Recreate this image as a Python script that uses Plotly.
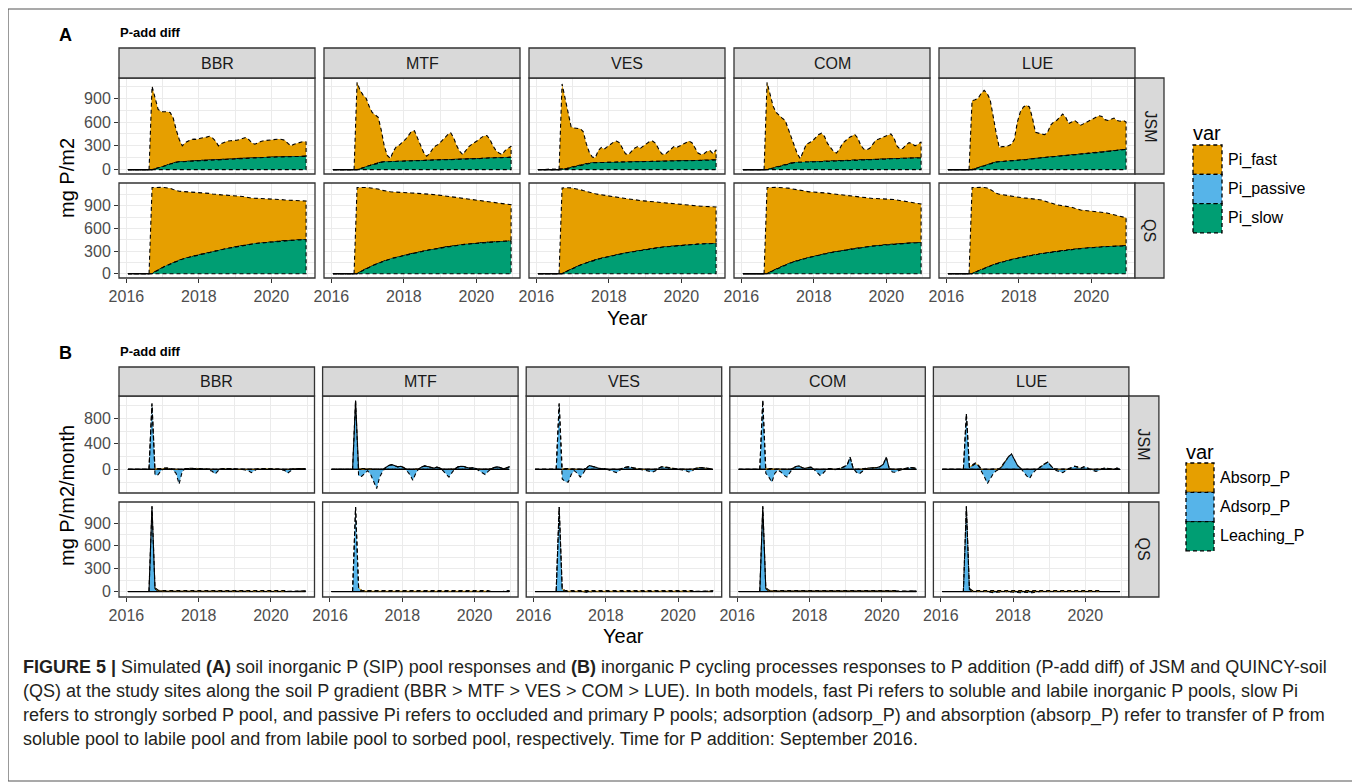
import plotly.graph_objects as go
import pandas as pd

# The page body adds an 8px margin, so the figure is drawn 8px smaller and every
# reference pixel position is shifted by that amount.
OFF = 8
W, H = 1360 - OFF, 782 - OFF
FONT = "Liberation Sans, Arial, Helvetica, sans-serif"

# ---------------- data ----------------
SITES = ["BBR", "MTF", "VES", "COM", "LUE"]
MODELS = ["JSM", "QS"]
POOL_VARS = ["Pi_fast", "Pi_passive", "Pi_slow"]
FLUX_VARS = ["Absorp_P", "Adsorp_P", "Leaching_P"]
VAR_COLORS = {"Pi_fast": "#E69F00", "Pi_passive": "#56B4E9", "Pi_slow": "#009E73",
              "Absorp_P": "#E69F00", "Adsorp_P": "#56B4E9", "Leaching_P": "#009E73"}
MONTHS = pd.date_range("2016-01-01", "2020-12-01", freq="MS")   # monthly output
X_TICKS = [2016, 2018, 2020]
Y_TICKS = {("A", "JSM"): [0, 300, 600, 900], ("A", "QS"): [0, 300, 600, 900],
           ("B", "JSM"): [-400, 0, 400, 800], ("B", "QS"): [0, 300, 600, 900]}

PRE = [0, 0, 0, 0, 0, 0, 0, 0]   # Jan-Aug 2016, before P addition
# all lists below: Sep 2016 ... Dec 2020 (52 months)
ZEROS = [0, 0, 0, 0, 0, 0, 0, 0, 0, 0, 0, 0, 0,
         0, 0, 0, 0, 0, 0, 0, 0, 0, 0, 0, 0, 0,
         0, 0, 0, 0, 0, 0, 0, 0, 0, 0, 0, 0, 0,
         0, 0, 0, 0, 0, 0, 0, 0, 0, 0, 0, 0, 0]

# ---- (A) Pi pools, mg P/m2 ----
JSM_BBR_FAST = [1050, 890, 740, 700, 685, 675, 650, 570, 405, 280, 200, 238, 255, 272, 275, 268, 280, 282, 288, 295, 272, 230, 170, 199, 218, 227, 231, 230, 230, 237, 248, 255, 228, 187, 167, 187, 201, 210, 215, 219, 217, 220, 222, 215, 204, 164, 134, 154, 164, 178, 188, 183]
JSM_BBR_SLOW = [0, 10, 20, 30, 45, 55, 70, 80, 95, 100, 100, 102, 105, 108, 110, 112, 115, 118, 122, 125, 128, 130, 130, 131, 132, 133, 134, 135, 140, 143, 147, 150, 152, 153, 153, 153, 154, 155, 155, 156, 158, 160, 163, 165, 166, 166, 166, 166, 166, 167, 167, 167]
JSM_MTF_FAST = [1100, 990, 920, 865, 750, 660, 615, 575, 405, 200, 80, 39, 128, 187, 206, 235, 273, 321, 369, 377, 286, 185, 105, 54, 83, 142, 181, 200, 238, 276, 314, 337, 271, 170, 100, 59, 108, 157, 186, 205, 232, 259, 281, 283, 231, 150, 90, 59, 38, 87, 116, 140]
JSM_MTF_SLOW = [0, 10, 20, 35, 50, 60, 75, 85, 95, 100, 100, 101, 102, 103, 104, 105, 107, 109, 111, 113, 114, 115, 115, 116, 117, 118, 119, 120, 122, 124, 126, 128, 129, 130, 130, 131, 132, 133, 134, 135, 138, 141, 144, 147, 149, 150, 150, 151, 152, 153, 154, 155]
JSM_VES_FAST = [1080, 892, 684, 515, 490, 475, 460, 415, 255, 138, 74, 62, 151, 190, 170, 199, 228, 252, 266, 245, 174, 103, 93, 132, 172, 191, 171, 200, 229, 252, 255, 224, 153, 92, 82, 112, 151, 181, 170, 190, 218, 236, 244, 223, 152, 91, 71, 81, 110, 120, 80, 129]
JSM_VES_SLOW = [0, 8, 16, 25, 35, 45, 55, 65, 75, 82, 86, 88, 89, 90, 90, 91, 92, 93, 94, 95, 96, 97, 97, 98, 98, 99, 99, 100, 101, 103, 105, 106, 107, 108, 108, 108, 109, 109, 110, 110, 112, 114, 116, 117, 118, 119, 119, 119, 120, 120, 120, 121]
JSM_COM_FAST = [1100, 940, 780, 690, 638, 598, 558, 448, 318, 212, 108, 46, 125, 224, 243, 262, 300, 338, 356, 314, 223, 172, 122, 101, 150, 219, 258, 287, 304, 326, 278, 186, 135, 124, 144, 193, 242, 256, 270, 289, 306, 313, 260, 158, 117, 126, 166, 195, 185, 154, 174, 203]
JSM_COM_SLOW = [0, 10, 20, 30, 42, 52, 62, 72, 82, 88, 92, 94, 95, 96, 97, 98, 100, 102, 104, 106, 107, 108, 108, 109, 110, 111, 112, 113, 116, 119, 122, 124, 125, 126, 126, 127, 128, 129, 130, 131, 134, 137, 140, 142, 143, 144, 144, 145, 145, 146, 146, 147]
JSM_LUE_FAST = [870, 868, 875, 922, 950, 898, 805, 565, 365, 180, 188, 186, 194, 212, 270, 488, 615, 670, 684, 658, 512, 327, 313, 300, 287, 314, 401, 438, 454, 490, 526, 482, 398, 414, 431, 398, 365, 382, 399, 416, 432, 438, 464, 450, 406, 392, 408, 414, 380, 365, 370, 345]
JSM_LUE_SLOW = [0, 12, 25, 38, 50, 62, 75, 85, 95, 100, 102, 104, 106, 108, 110, 112, 115, 120, 126, 132, 138, 143, 147, 150, 153, 156, 159, 162, 166, 170, 174, 178, 182, 186, 189, 192, 195, 198, 201, 204, 208, 212, 216, 220, 224, 228, 232, 236, 240, 245, 250, 255]

QS_BBR_FAST = [1140, 1118, 1093, 1070, 1048, 1028, 1002, 970, 938, 912, 896, 881, 870, 857, 843, 827, 815, 803, 791, 777, 762, 746, 735, 725, 715, 705, 693, 680, 670, 660, 648, 633, 617, 606, 600, 595, 590, 585, 579, 573, 568, 562, 555, 546, 538, 533, 530, 526, 522, 518, 515, 512]
QS_BBR_SLOW = [0, 25, 50, 72, 92, 110, 128, 145, 162, 178, 192, 205, 215, 225, 235, 245, 255, 265, 275, 285, 293, 302, 310, 318, 326, 334, 342, 350, 358, 366, 374, 382, 388, 394, 398, 402, 406, 410, 414, 418, 422, 426, 430, 434, 437, 440, 442, 444, 446, 448, 449, 450]
QS_MTF_FAST = [1140, 1121, 1097, 1074, 1053, 1032, 1010, 983, 952, 927, 906, 890, 876, 862, 849, 836, 824, 813, 803, 792, 781, 771, 761, 751, 740, 728, 715, 703, 691, 679, 667, 653, 640, 629, 619, 611, 603, 595, 587, 579, 572, 564, 556, 547, 537, 529, 522, 515, 505, 496, 488, 481]
QS_MTF_SLOW = [0, 22, 45, 66, 85, 103, 120, 137, 153, 168, 182, 195, 206, 216, 226, 236, 246, 256, 265, 274, 283, 291, 299, 307, 315, 322, 330, 337, 344, 351, 358, 364, 370, 376, 381, 385, 389, 393, 397, 401, 405, 409, 412, 415, 418, 421, 423, 425, 427, 429, 430, 431]
QS_VES_FAST = [1135, 1120, 1098, 1075, 1052, 1027, 1000, 972, 945, 918, 895, 876, 857, 842, 827, 813, 799, 784, 769, 753, 737, 722, 707, 694, 682, 670, 659, 649, 639, 629, 619, 609, 599, 589, 580, 572, 564, 556, 548, 541, 535, 528, 521, 514, 508, 504, 500, 496, 492, 489, 486, 483]
QS_VES_SLOW = [0, 20, 40, 60, 78, 95, 112, 128, 143, 157, 170, 182, 193, 203, 213, 222, 231, 240, 249, 257, 265, 273, 281, 288, 295, 302, 309, 315, 321, 327, 333, 339, 344, 349, 354, 358, 362, 366, 370, 374, 377, 380, 383, 386, 389, 391, 393, 395, 397, 398, 399, 400]
QS_COM_FAST = [1140, 1123, 1103, 1082, 1062, 1043, 1024, 1002, 980, 959, 936, 914, 895, 881, 868, 856, 846, 835, 823, 810, 797, 783, 770, 758, 746, 734, 722, 711, 702, 692, 681, 668, 656, 646, 638, 631, 626, 621, 616, 610, 604, 597, 589, 580, 570, 562, 555, 548, 539, 529, 520, 512]
QS_COM_SLOW = [0, 20, 40, 60, 79, 97, 114, 130, 145, 159, 172, 184, 195, 205, 215, 225, 234, 243, 252, 261, 269, 277, 285, 292, 299, 306, 313, 320, 326, 332, 338, 344, 350, 355, 360, 365, 369, 373, 377, 381, 385, 389, 392, 395, 398, 400, 402, 404, 406, 408, 409, 410]
QS_LUE_FAST = [1140, 1125, 1107, 1088, 1069, 1048, 1013, 974, 935, 909, 890, 874, 859, 839, 820, 806, 792, 781, 771, 760, 750, 739, 727, 710, 691, 671, 652, 633, 617, 605, 595, 585, 575, 560, 541, 522, 510, 502, 495, 489, 482, 475, 468, 460, 451, 441, 429, 417, 405, 394, 383, 372]
QS_LUE_SLOW = [0, 18, 36, 54, 71, 87, 102, 116, 130, 143, 155, 166, 176, 186, 195, 204, 213, 221, 229, 237, 244, 251, 258, 265, 271, 277, 283, 289, 295, 300, 305, 310, 315, 320, 324, 328, 332, 336, 340, 343, 346, 349, 352, 355, 357, 359, 361, 363, 365, 366, 367, 368]

# ---- (B) P fluxes, mg P/m2/month ----
JSM_BBR_ADSORP = [1030, -90, -85, -20, 15, 20, 10, -10, -60, -230, -40, 15, 15, 20, 20, 15, 15, 10, 5, -10, -30, -70, -20, 10, 15, 15, 10, 10, 10, 5, 0, -10, -20, -50, -20, 10, 10, 15, 15, 10, 10, 5, 5, -5, -15, -60, -20, 10, 10, 15, 20, 15]
JSM_MTF_ADSORP = [1080, -100, -110, -60, -20, -80, -180, -300, -120, -30, 30, 60, 75, 60, 40, 50, 30, -20, -80, -170, -60, 10, 40, 55, 45, 30, 20, 35, 20, -20, -70, -120, -50, 10, 40, 50, 45, 30, 20, 25, 10, -20, -50, -80, -30, 10, 30, 40, 30, 10, 20, 40]
JSM_VES_ADSORP = [1030, -150, -190, -200, -80, -20, -60, -120, -60, 20, 60, 50, 30, 20, 10, 15, 0, -20, -40, -50, -20, 20, 35, 40, 30, 20, 10, 10, 0, -10, -30, -40, -20, 20, 40, 40, 30, 20, 15, 10, 5, -10, -20, -40, -30, 10, 30, 30, 25, 20, 10, 5]
JSM_COM_ADSORP = [1080, -60, -120, -200, -60, -10, -40, -90, -120, -40, 20, 45, 55, 30, 15, 30, 35, 0, -50, -95, -60, -10, 15, 10, -5, 10, 20, 40, 70, 190, 20, -40, -70, -30, 5, 20, 25, 20, 30, 45, 80, 190, 10, -40, -45, -20, 0, 10, 20, 30, 25, 15]
JSM_LUE_ADSORP = [870, 30, 60, 90, 60, -20, -120, -220, -150, -60, -20, 10, 60, 130, 200, 240, 150, 60, 20, -40, -100, -140, -60, -10, 20, 50, 90, 115, 60, 10, -20, -40, -50, -20, 10, 30, 50, 40, 20, 40, 30, 0, -20, -30, -20, 10, 20, 20, 10, 0, 20, 10]
JSM_ABSORP = [0, 15, 15, 12, 8, 5, 0, 0, 0, 0, 0, 0, 0,
              0, 0, 0, 0, 0, 0, 0, 0, 0, 0, 0, 0, 0,
              0, 0, 0, 0, 0, 0, 0, 0, 0, 0, 0, 0, 0,
              0, 0, 0, 0, 0, 0, 0, 0, 0, 0, 0, 0, 0]

QS_BBR_ADSORP = [1120, 40, 5, 0, 0, 0, 0, 0, 0, 0, 0, 0, 0,
                 0, 0, 0, 0, 0, 0, 0, 0, 0, 0, 0, 0, 0,
                 0, 0, 0, 0, 0, 0, 0, 0, 0, 0, 0, 0, 0,
                 0, 0, 0, 0, 0, 0, 0, 0, 0, 0, 0, 5, 10]
QS_MTF_ADSORP = [1110, 50, 5, 0, 0, 0, 0, 0, 0, 0, 0, 0, 0,
                 0, 0, 0, 0, 0, 0, 0, 0, 0, 0, 0, 0, 0,
                 0, 0, 0, 0, 0, 0, 0, 0, 0, 0, 0, 0, 0,
                 0, 0, 0, 0, 0, 0, 0, 0, 0, 0, 0, 10, 10]
QS_VES_ADSORP = [1110, 30, 0, 0, 0, 0, 0, 0, 0, -10, -10, 0, 0,
                 0, 0, 0, 0, 0, 0, 0, 0, 0, 0, 0, 0, 0,
                 0, 0, 0, 0, 0, 0, 0, 0, 0, 0, 0, 0, 0,
                 0, 0, 0, 0, 0, 0, 0, 0, 0, 0, 0, 5, 10]
QS_COM_ADSORP = [1120, 40, 5, 0, 0, 0, 0, 0, 0, -5, -5, 0, 0,
                 0, 0, 0, 0, 0, 0, 0, 0, 0, 0, 0, 0, 0,
                 0, 0, 0, 0, 0, 0, 0, 0, 0, 0, 0, 0, 0,
                 0, 0, 0, 0, 0, 0, 0, 0, 0, 0, 0, 5, 5]
QS_LUE_ADSORP = [1120, 30, 0, 0, 0, 0, 0, 0, -10, -15, -10, 0, 0,
                 0, 0, -5, -10, -15, -15, -10, -10, -15, -15, -5, 0, 0,
                 0, 0, 0, 0, 0, 0, 0, 0, 0, 0, 0, 0, 0,
                 0, 0, 0, 0, 0, 0, 0, 0, 0, 0, 0, 0, 0]
QS_ABSORP = [0, 12, 12, 12, 12, 12, 12, 12, 12, 12, 12, 12, 12,
             12, 12, 12, 12, 12, 12, 12, 12, 12, 12, 12, 12, 12,
             12, 12, 12, 12, 12, 12, 12, 12, 12, 12, 12, 12, 12,
             12, 12, 12, 12, 12, 12, 0, 0, 0, 0, 0, 0, 0]

CAPTION = [
    "<b>FIGURE 5 |</b> Simulated <b>(A)</b> soil inorganic P (SIP) pool responses and <b>(B)</b> inorganic P cycling processes responses to P addition (P-add diff) of JSM and QUINCY-soil",
    "(QS) at the study sites along the soil P gradient (BBR &gt; MTF &gt; VES &gt; COM &gt; LUE). In both models, fast Pi refers to soluble and labile inorganic P pools, slow Pi",
    "refers to strongly sorbed P pool, and passive Pi refers to occluded and primary P pools; adsorption (adsorp_P) and absorption (absorp_P) refer to transfer of P from",
    "soluble pool to labile pool and from labile pool to sorbed pool, respectively. Time for P addition: September 2016.",
]

# ---------------- assemble ----------------
def full(v):
    assert len(v) == 52, len(v)
    return PRE + list(v)

G = globals()
POOLS, FLUXES = {}, {}
for m in MODELS:
    for s in SITES:
        POOLS[(m, s)] = {"Pi_fast": full(G[f"{m}_{s}_FAST"]),
                         "Pi_passive": full(ZEROS),
                         "Pi_slow": full(G[f"{m}_{s}_SLOW"])}
        FLUXES[(m, s)] = {"Absorp_P": full(G[f"{m}_ABSORP"]),
                          "Adsorp_P": full(G[f"{m}_{s}_ADSORP"]),
                          "Leaching_P": full(ZEROS)}

X = [d.year + (d.month - 0.5) / 12 for d in MONTHS]
XPAD = 0.05 * (X[-1] - X[0])
XR = [X[0] - XPAD, X[-1] + XPAD]


def stack(series, bottom_to_top):
    n = len(X)
    pos, neg = [0.0] * n, [0.0] * n
    out = {}
    for v in bottom_to_top:
        lo, hi = [], []
        for i, val in enumerate(series[v]):
            if val >= 0:
                lo.append(pos[i]); pos[i] += val; hi.append(pos[i])
            else:
                lo.append(neg[i]); neg[i] += val; hi.append(neg[i])
        out[v] = (lo, hi)
    return out, max(pos), min(neg)


def px(x):
    return (x - OFF) / W


def py(y):
    return 1 - (y - OFF) / H


def text(t, x, y, size, color="black", xanchor="center", angle=0):
    return dict(text=t, x=px(x), y=py(y), xref="paper", yref="paper", showarrow=False,
                xanchor=xanchor, yanchor="middle", textangle=angle,
                font=dict(family=FONT, size=size, color=color))


PANELS = {
    "A": dict(data=POOLS, vars=POOL_VARS, left=119, step=205, width=196,
              strip=(48, 78), rows=[(78, 174), (183, 278)], rstrip=29,
              ytitle="mg P/m2", ytitle_y=178, year_y=318, head_y=33),
    "B": dict(data=FLUXES, vars=FLUX_VARS, left=119, step=203.6, width=195.5,
              strip=(367, 396), rows=[(396, 493), (502, 597)], rstrip=30,
              ytitle="mg P/m2/month", ytitle_y=496, year_y=636, head_y=351),
}

DASH = "4px,3px"
GRID = "#EBEBEB"
BORDER = "#333333"
TICKFONT = dict(family=FONT, size=16, color="#4D4D4D")

fig = go.Figure()
layout = {}
shapes, annotations = [], []
ax = 0
for pname, P in PANELS.items():
    order = list(reversed(P["vars"]))
    for r, model in enumerate(MODELS):
        stacks = {}
        mx, mn = 0.0, 0.0
        for s in SITES:
            st, hi_, lo_ = stack(P["data"][(model, s)], order)
            stacks[s] = st
            mx, mn = max(mx, hi_), min(mn, lo_)
        pad = 0.05 * (mx - mn)
        YR = [mn - pad, mx + pad]
        yt = Y_TICKS[(pname, model)]
        ystep = yt[1] - yt[0]
        y0, y1 = P["rows"][r]
        for c, site in enumerate(SITES):
            ax += 1
            sfx = "" if ax == 1 else str(ax)
            x0 = P["left"] + c * P["step"]
            x1 = x0 + P["width"]
            layout["xaxis" + sfx] = dict(
                domain=[px(x0), px(x1)], range=XR, anchor="y" + sfx, automargin=False,
                tickmode="array", tickvals=X_TICKS, ticktext=[str(t) for t in X_TICKS],
                showgrid=True, gridcolor=GRID, gridwidth=1.1,
                minor=dict(dtick=1, tick0=2016, showgrid=True, gridcolor=GRID, gridwidth=0.55, ticks=""),
                zeroline=False, showline=False,
                showticklabels=(r == 1), ticks="outside" if r == 1 else "",
                ticklen=4, tickcolor=BORDER, tickwidth=1, tickfont=TICKFONT)
            layout["yaxis" + sfx] = dict(
                domain=[py(y1), py(y0)], range=YR, anchor="x" + sfx, automargin=False,
                tickmode="array", tickvals=yt, ticktext=[str(t) for t in yt],
                showgrid=True, gridcolor=GRID, gridwidth=1.1,
                minor=dict(dtick=ystep / 2, tick0=0, showgrid=True, gridcolor=GRID, gridwidth=0.55, ticks=""),
                zeroline=False, showline=False,
                showticklabels=(c == 0), ticks="outside" if c == 0 else "",
                ticklen=4, tickcolor=BORDER, tickwidth=1, tickfont=TICKFONT)
            xa, ya = "x" + sfx, "y" + sfx
            st = stacks[site]

            def poly(v):
                lo, hi = st[v]
                fig.add_trace(go.Scatter(
                    x=X + X[::-1], y=hi + lo[::-1], xaxis=xa, yaxis=ya,
                    mode="lines", fill="toself", fillcolor=VAR_COLORS[v],
                    line=dict(color="black", width=1.1, dash=DASH),
                    hoverinfo="skip", showlegend=False))

            if pname == "A":
                for v in P["vars"]:
                    poly(v)
                tot = [sum(P["data"][(model, site)][v][i] for v in P["vars"]) for i in range(len(X))]
                k = 0
                while k < len(tot) and tot[k] == 0:
                    k += 1
                fig.add_trace(go.Scatter(x=X[:k], y=tot[:k], xaxis=xa, yaxis=ya, mode="lines",
                                         line=dict(color="black", width=1.3),
                                         hoverinfo="skip", showlegend=False))
            else:
                poly("Adsorp_P")
                poly("Leaching_P")
                fig.add_trace(go.Scatter(x=X, y=P["data"][(model, site)]["Leaching_P"],
                                         xaxis=xa, yaxis=ya, mode="lines",
                                         line=dict(color="black", width=1.3),
                                         hoverinfo="skip", showlegend=False))
                poly("Absorp_P")

            shapes.append(dict(type="rect", xref="paper", yref="paper", x0=px(x0), x1=px(x1),
                               y0=py(y1), y1=py(y0), line=dict(color=BORDER, width=1.3), layer="above"))
            if r == 0:
                sy0, sy1 = P["strip"]
                shapes.append(dict(type="rect", xref="paper", yref="paper", x0=px(x0), x1=px(x1),
                                   y0=py(sy1), y1=py(sy0), fillcolor="#D9D9D9",
                                   line=dict(color=BORDER, width=1.3), layer="above"))
                annotations.append(text(site, (x0 + x1) / 2, (sy0 + sy1) / 2, 16, "#1A1A1A"))
            if c == len(SITES) - 1:
                rx0, rx1 = x1, x1 + P["rstrip"]
                shapes.append(dict(type="rect", xref="paper", yref="paper", x0=px(rx0), x1=px(rx1),
                                   y0=py(y1), y1=py(y0), fillcolor="#D9D9D9",
                                   line=dict(color=BORDER, width=1.3), layer="above"))
                annotations.append(text(model, (rx0 + rx1) / 2, (y0 + y1) / 2, 16, "#1A1A1A", angle=90))

    left = P["left"]
    right = P["left"] + 4 * P["step"] + P["width"]
    annotations.append(text(P["ytitle"], 67, P["ytitle_y"], 20, angle=-90))
    annotations.append(text("Year", (left + right) / 2, P["year_y"], 20))
    annotations.append(text("<b>" + pname + "</b>", 65, P["head_y"] + 2, 18))
    annotations.append(text("<b>P-add diff</b>", 118, P["head_y"], 13, xanchor="left"))

LEGENDS = [
    dict(vars=POOL_VARS, title_xy=(1191, 133), key_x=(1193, 1222), key_top=145, key_h=29.3, label_x=1226),
    dict(vars=FLUX_VARS, title_xy=(1184, 452), key_x=(1186, 1214), key_top=463, key_h=29.3, label_x=1218),
]
for L in LEGENDS:
    annotations.append(text("var", L["title_xy"][0], L["title_xy"][1], 20, xanchor="left"))
    for i, v in enumerate(L["vars"]):
        t = L["key_top"] + i * L["key_h"]
        shapes.append(dict(type="rect", xref="paper", yref="paper", x0=px(L["key_x"][0]), x1=px(L["key_x"][1]),
                           y0=py(t + L["key_h"]), y1=py(t), fillcolor=VAR_COLORS[v],
                           line=dict(color="black", width=1.3, dash=DASH)))
        annotations.append(text(v, L["label_x"], t + L["key_h"] / 2, 16, xanchor="left"))

shapes.append(dict(type="rect", xref="paper", yref="paper", x0=px(8), x1=px(1357), y0=py(781), y1=py(9),
                   line=dict(color="#555555", width=1.2)))

for i, line in enumerate(CAPTION):
    annotations.append(text(line, 21, 667 + 24 * i, 18, "#231F20", xanchor="left"))

fig.update_layout(**layout)
fig.update_layout(template="none", width=W, height=H, margin=dict(l=0, r=0, t=0, b=0, autoexpand=False),
                  paper_bgcolor="white", plot_bgcolor="white", showlegend=False,
                  shapes=shapes, annotations=annotations)
fig.write_html("out.html")
